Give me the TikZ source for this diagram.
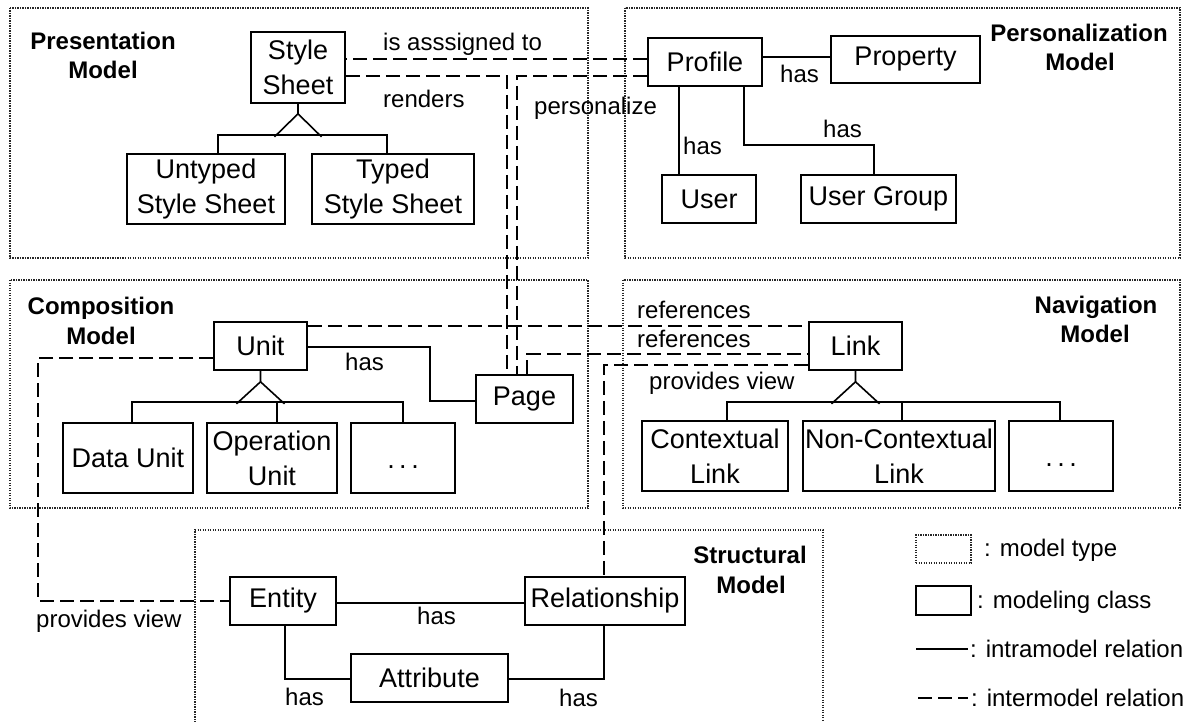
\documentclass[tikz,border=0pt]{standalone}
\usepackage{fontspec}
\setmainfont{Liberation Sans}
\begin{document}
\begin{tikzpicture}[x=1pt,y=-1pt,
  cls/.style={draw, line width=1.6pt, inner sep=0pt, align=center, font=\fontsize{27}{35}\selectfont},
  lbl/.style={inner sep=0pt, font=\fontsize{24}{28}\selectfont, anchor=base west},
  ttl/.style={inner sep=0pt, font=\fontsize{24}{28}\selectfont\bfseries, anchor=base},
  modelbox/.style={line width=1.3pt, dash pattern=on 1.3pt off 1.2pt, draw=black!85},
  intra/.style={line width=1.6pt},
  inter/.style={line width=1.6pt, dash pattern=on 14pt off 6pt},
  dotsbox/.style={cls, text height=20pt, text depth=0pt}]
\useasboundingbox (0,0) rectangle (1196,722);

% model areas
\draw[modelbox] (10,8) rectangle (588,258);
\draw[modelbox] (625,8) rectangle (1180,258);
\draw[modelbox] (10,280) rectangle (588,508);
\draw[modelbox] (623,280) rectangle (1180,508);
\draw[modelbox] (195,730) -- (195,530) -- (823,530) -- (823,730);

% model titles
\node[ttl] (presA) at (103,50) {Presentation};
\node[ttl] (presB) at (103,79) {Model};
\node[ttl] (persA) at (1079,42) {Personalization};
\node[ttl] (persB) at (1080,71) {Model};
\node[ttl] (compA) at (101,314) {Composition};
\node[ttl] (compB) at (101,344) {Model};
\node[ttl] (navA) at (1096,313) {Navigation};
\node[ttl] (navB) at (1095,342) {Model};
\node[ttl] (strA) at (750,563) {Structural};
\node[ttl] (strB) at (751,593) {Model};

% presentation model
\node[cls, minimum width=94pt, minimum height=71pt] (stylesheet) at (298,67.5) {Style\\Sheet};
\node[cls, minimum width=158pt, minimum height=70pt] (untyped) at (206,189) {Untyped\\Style Sheet};
\node[cls, minimum width=162pt, minimum height=70pt] (typed) at (393,189) {Typed\\Style Sheet};

% personalization model
\node[cls, minimum width=114pt, minimum height=48pt] (profile) at (705,62) {Profile};
\node[cls, minimum width=149pt, minimum height=47pt] (property) at (905.5,59.5) {Property};
\node[cls, minimum width=94pt, minimum height=48pt] (user) at (709,199) {User};
\node[cls, minimum width=155pt, minimum height=48pt] (usergroup) at (878.5,199) {User Group};

% composition model
\node[cls, minimum width=93pt, minimum height=48pt] (unit) at (260.5,346) {Unit};
\node[cls, minimum width=97pt, minimum height=48pt] (page) at (524.5,399) {Page};
\node[cls, minimum width=130pt, minimum height=70pt] (dataunit) at (128,458) {Data Unit};
\node[cls, minimum width=130pt, minimum height=70pt] (opunit) at (272,458) {Operation\\Unit};
\node[dotsbox, minimum width=104pt, minimum height=70pt] (udots) at (403,458) {.\hspace{4.5pt}.\hspace{4.5pt}.};

% navigation model
\node[cls, minimum width=93pt, minimum height=48pt] (link) at (855.5,346) {Link};
\node[cls, minimum width=146pt, minimum height=70pt] (contextual) at (715,456) {Contextual\\Link};
\node[cls, minimum width=192pt, minimum height=70pt] (noncontextual) at (899,456) {Non-Contextual\\Link};
\node[dotsbox, minimum width=104pt, minimum height=70pt] (ndots) at (1061,456) {.\hspace{4.5pt}.\hspace{4.5pt}.};

% structural model
\node[cls, minimum width=106pt, minimum height=48pt] (entity) at (283,601) {Entity};
\node[cls, minimum width=160pt, minimum height=48pt] (relationship) at (605,601) {Relationship};
\node[cls, minimum width=157pt, minimum height=48pt] (attribute) at (429.5,678) {Attribute};

% generalisations
\draw[intra] (stylesheet.south) -- ++(0,10) coordinate (ssapex) -- ++(-23.5,23);
\draw[intra] (ssapex) -- ++(23.5,23);
\draw[intra] ([xshift=12pt]untyped.north) -- ++(0,-18) -| ([xshift=-6pt]typed.north);

\draw[intra] (unit.south) -- ++(0,11) coordinate (uapex) -- ++(-24,22);
\draw[intra] (uapex) -- ++(24,22);
\draw[intra] ([xshift=4pt]dataunit.north) -- ++(0,-20) -| (udots.north);
\draw[intra] ([xshift=5pt]opunit.north) -- ++(0,-20);

\draw[intra] (link.south) -- ++(0,11) coordinate (lapex) -- ++(-24,22);
\draw[intra] (lapex) -- ++(24,22);
\draw[intra] ([xshift=12pt]contextual.north) -- ++(0,-18) -| ([xshift=-1pt]ndots.north);
\draw[intra] ([xshift=3pt]noncontextual.north) -- ++(0,-18);

% intramodel relations
\draw[intra] ([yshift=5pt]profile.east) -- ([yshift=5pt]profile.east -| property.west);
\node[lbl] (hasprop) at (780,83) {has};
\draw[intra] ([xshift=-26pt]profile.south) -- ([xshift=-26pt]profile.south |- user.north);
\node[lbl] (hasuser) at (683,155) {has};
\draw[intra] ([xshift=39pt]profile.south) -- ++(0,58) -| ([xshift=-4.5pt]usergroup.north);
\node[lbl] (hasgroup) at (823,138) {has};

\draw[intra] ([yshift=-1pt]unit.east) -- ++(122,0) |- ([yshift=-2pt]page.west);
\node[lbl] (haspage) at (345,370) {has};

\draw[intra] ([yshift=-2pt]entity.east) -- ([yshift=-2pt]entity.east -| relationship.west);
\node[lbl] (hasrel) at (417,624) {has};
\draw[intra] ([xshift=2pt]entity.south) |- ([yshift=-1pt]attribute.west);
\node[lbl] (hasattrA) at (285,705) {has};
\draw[intra] ([xshift=-1pt]relationship.south) |- ([yshift=-1pt]attribute.east);
\node[lbl] (hasattrB) at (559,706) {has};

% intermodel relations
\draw[inter] ([yshift=3pt]profile.west) -- ([yshift=3pt]profile.west -| stylesheet.east);
\node[lbl] (assigned) at (383,51) {is asssigned to};
\draw[inter] ([yshift=-8.5pt]stylesheet.east) -| ([xshift=-17.5pt]page.north);
\node[lbl] (renders) at (383,108) {renders};
\draw[inter] ([yshift=-14pt]profile.west) -| ([xshift=-7.5pt]page.north);
\node[lbl] (personalize) at (534,115) {personalize};

\draw[inter] ([yshift=20pt]unit.east) -- ([yshift=20pt]link.west);
\node[lbl] (refA) at (637,318) {references};
\draw[inter] ([xshift=2.5pt]page.north) |- ([yshift=-8pt]link.west);
\node[lbl] (refB) at (637,347) {references};
\draw[inter] ([yshift=-19pt]link.west) -| ([xshift=-1pt]relationship.north);
\node[lbl] (viewA) at (649,389) {provides view};
\draw[inter] ([yshift=-12pt]unit.west) -- ++(-175,0) |- (entity.west);
\node[lbl] (viewB) at (36,627) {provides view};

% legend
\node[modelbox, draw, minimum width=55pt, minimum height=28pt, inner sep=0pt] (legmodel) at (943.5,549) {};
\node[lbl] (legmodeltxt) at (984,556) {: model type};
\node[cls, minimum width=55pt, minimum height=29pt] (legclass) at (943.5,600.5) {};
\node[lbl] (legclasstxt) at (977,608) {: modeling class};
\coordinate (legintraA) at (916,649);
\coordinate (legintraB) at (968,649);
\draw[intra] (legintraA) -- (legintraB);
\node[lbl] (legintratxt) at (970,657) {: intramodel relation};
\coordinate (leginterA) at (918,698);
\coordinate (leginterB) at (968,698);
\draw[inter] (leginterA) -- (leginterB);
\node[lbl] (leginterxt) at (971,706) {: intermodel relation};
\end{tikzpicture}
\end{document}
